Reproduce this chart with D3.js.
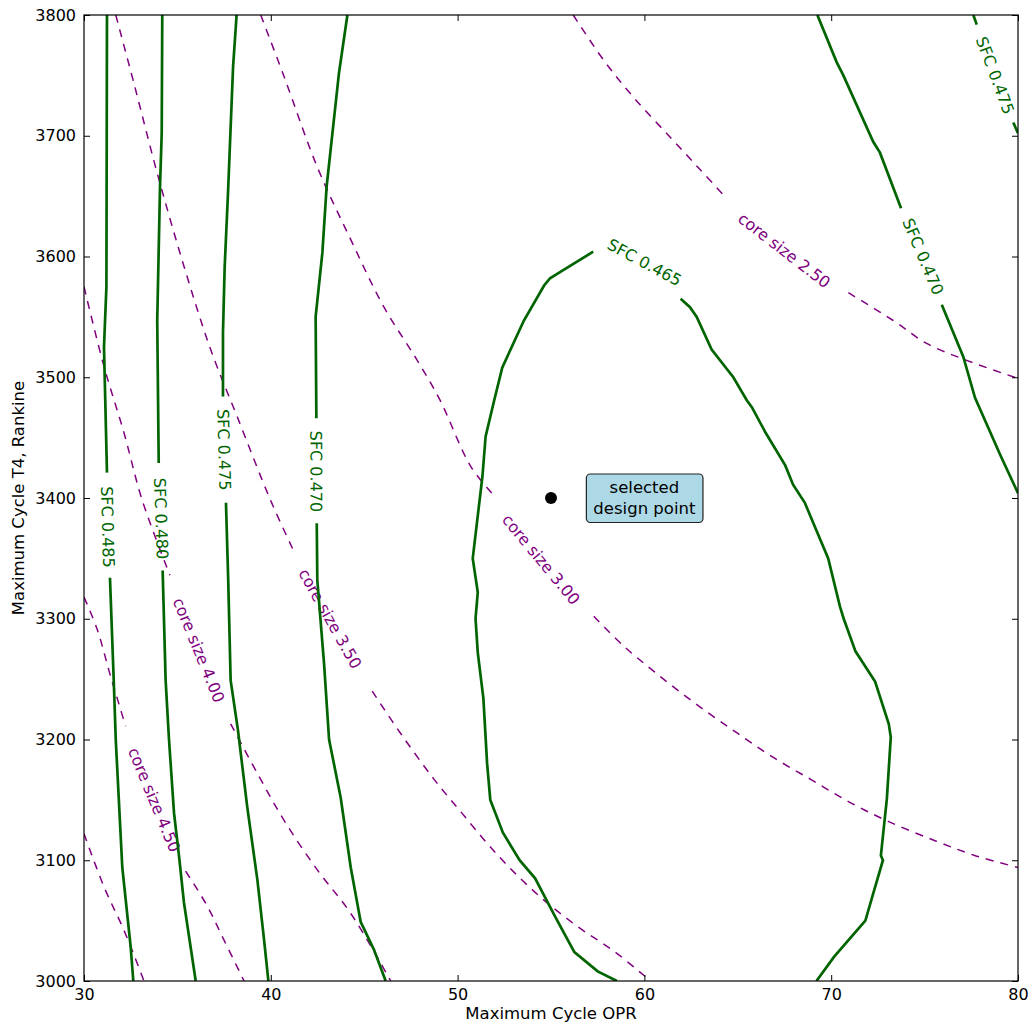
<!DOCTYPE html>
<html>
<head>
<meta charset="utf-8">
<script src="https://cdn.jsdelivr.net/npm/d3@7"></script>
<style>
body { margin: 0; background: #fff; }
text { font-family: "DejaVu Sans", sans-serif; }
</style>
</head>
<body>
<div id="chart"></div>
<script>
// axis ticks
let xTicks = [30, 40, 50, 60, 70, 80];
let yTicks = [3000, 3100, 3200, 3300, 3400, 3500, 3600, 3700, 3800];

// SFC contours, [OPR, T4] points, split where the inline label sits
let sfc485 = [
    [[31.23, 3800], [31.20, 3575], [31.07, 3525], [31.23, 3421]],
    [[31.39, 3334], [31.61, 3241], [31.70, 3200], [32.05, 3094], [32.50, 3028], [32.64, 3000]]
];
let sfc480 = [
    [[34.19, 3800], [34.16, 3702], [34.07, 3658], [33.92, 3547], [34.00, 3429]],
    [[34.21, 3340], [34.37, 3249], [34.55, 3200], [34.82, 3139], [35.09, 3103], [35.35, 3065], [35.98, 3000]]
];
let sfc475a = [
    [[38.17, 3800], [37.98, 3757], [37.71, 3653], [37.53, 3591], [37.44, 3537], [37.44, 3484]],
    [[37.60, 3396], [37.72, 3332], [37.85, 3249], [38.24, 3208], [38.74, 3144], [39.28, 3084], [39.64, 3034], [39.87, 3000]]
];
let sfc470a = [
    [[44.10, 3800], [43.65, 3752], [42.99, 3658], [42.76, 3603], [42.40, 3550], [42.44, 3466]],
    [[42.46, 3379], [42.49, 3332], [42.85, 3263], [43.12, 3200], [43.74, 3152], [44.28, 3094], [44.81, 3049], [45.52, 3026], [46.15, 3000]]
];
let sfc465 = [
    [[58.53, 3000], [57.50, 3008], [56.25, 3024], [55.20, 3054], [54.15, 3085], [53.32, 3100], [52.42, 3123],
     [51.75, 3150], [51.58, 3180], [51.38, 3234], [51.08, 3272], [50.96, 3300], [51.08, 3322], [50.81, 3350],
     [51.33, 3418], [51.50, 3451], [51.96, 3481], [52.39, 3508], [53.55, 3547], [54.63, 3576], [54.95, 3582],
     [55.48, 3587], [57.26, 3604]],
    [[61.94, 3565], [62.44, 3558], [62.80, 3550], [63.60, 3523], [64.76, 3500], [65.48, 3481], [65.76, 3475],
     [66.49, 3454], [67.54, 3427], [67.96, 3411], [68.59, 3396], [69.21, 3373], [69.84, 3350], [70.47, 3310],
     [70.67, 3300], [71.30, 3273], [72.35, 3248], [73.08, 3213], [73.19, 3202], [72.98, 3151], [72.66, 3104],
     [72.77, 3100], [72.24, 3072], [71.83, 3050], [70.15, 3020], [69.21, 3000]]
];
let sfc470b = [
    [[69.26, 3800], [70.29, 3761], [70.65, 3750], [72.25, 3695], [72.61, 3686], [73.74, 3640]],
    [[75.92, 3560], [77.07, 3517], [77.70, 3483], [79.04, 3436], [80.00, 3404]]
];
let sfc475b = [
    [[77.61, 3800], [77.79, 3792]],
    [[79.75, 3711], [80.00, 3702]]
];
let sfcNames = ["SFC 0.485", "SFC 0.480", "SFC 0.475", "SFC 0.470", "SFC 0.465", "SFC 0.470", "SFC 0.475"];
let sfcLabelAt = [[31.26, 3376], [34.12, 3383], [37.49, 3440], [42.42, 3422], [60.0, 3595], [74.91, 3600], [78.77, 3750]];

// core size contours
let core250 = [
    [[56.19, 3800], [57.80, 3763], [59.41, 3732], [61.37, 3699], [62.98, 3672], [64.41, 3648]],
    [[70.92, 3570], [73.32, 3547], [75.11, 3528], [77.25, 3514], [80.00, 3499]]
];
let core300 = [
    [[39.46, 3800], [40.71, 3749], [42.49, 3674], [44.28, 3614], [46.06, 3558], [47.84, 3514], [49.06, 3481], [50.71, 3426], [51.95, 3402]],
    [[57.29, 3302], [58.85, 3278], [60.54, 3256], [62.62, 3231], [64.72, 3208], [66.81, 3186], [68.90, 3167],
     [70.99, 3148], [73.08, 3132], [75.59, 3116], [77.68, 3104], [80.00, 3094]]
];
let core350 = [
    [[31.70, 3800], [32.68, 3743], [33.92, 3669], [35.35, 3592], [36.78, 3523], [38.21, 3467], [39.99, 3398], [41.20, 3357]],
    [[45.43, 3240], [46.95, 3205], [48.74, 3167], [50.07, 3142], [52.16, 3104], [54.25, 3072], [56.34, 3046], [58.43, 3024], [60.33, 3000]]
];
let core400 = [
    [[30.00, 3575], [31.07, 3509], [32.14, 3454], [33.12, 3398], [34.60, 3336]],
    [[37.85, 3213], [39.28, 3172], [40.71, 3133], [42.49, 3092], [44.28, 3056], [46.42, 3000]]
];
let core450 = [
    [[30.00, 3318], [30.71, 3291], [31.43, 3252], [32.23, 3211]],
    [[35.44, 3091], [36.60, 3062], [37.49, 3034], [38.57, 3000]]
];
let core500 = [
    [[30.00, 3122], [31.07, 3078], [32.14, 3042], [33.21, 3000]]
];
let coreNames = ["core size 2.50", "core size 3.00", "core size 3.50", "core size 4.00", "core size 4.50", null];
let coreLabelAt = [[67.48, 3605], [54.46, 3349], [43.17, 3300], [36.14, 3274], [33.75, 3150], null];

let designPoint = [55, 3400];
let designText = ["selected", "design point"];
let designTextAt = [60, 3400];

let sfcLines = [sfc485, sfc480, sfc475a, sfc470a, sfc465, sfc470b, sfc475b].map(function (segs, i) {
    return {segs: segs, name: sfcNames[i], at: sfcLabelAt[i]};
});
let coreLines = [core250, core300, core350, core400, core450, core500].map(function (segs, i) {
    return {segs: segs, name: coreNames[i], at: coreLabelAt[i]};
});

let margin = {top: 15, right: 15, bottom: 46, left: 84},
    width = 1033 - margin.left - margin.right,
    height = 1027 - margin.top - margin.bottom;

let svg = d3.select("#chart")
    .append("svg")
    .attr("width", 1033)
    .attr("height", 1027)
    .append("g")
    .attr("transform", "translate(" + margin.left + "," + margin.top + ")");

let x = d3.scaleLinear().domain([30, 80]).range([0, width]);
let y = d3.scaleLinear().domain([3000, 3800]).range([height, 0]);

svg.append("clipPath").attr("id", "plot-clip")
    .append("rect").attr("width", width).attr("height", height);

let plot = svg.append("g").attr("clip-path", "url(#plot-clip)");

let straight = d3.line().x(d => x(d[0])).y(d => y(d[1]));
let smooth = d3.line().x(d => x(d[0])).y(d => y(d[1])).curve(d3.curveCatmullRom);

// angle of the label from the two ends of the gap, kept upright
function labelAngle(segs) {
    let a = segs[0][segs[0].length - 1], b = segs[1][0];
    let ang = Math.atan2(y(b[1]) - y(a[1]), x(b[0]) - x(a[0])) * 180 / Math.PI;
    if (ang > 90) ang -= 180;
    if (ang < -90) ang += 180;
    return ang;
}

function drawContours(lines, gen, color, lw, dash) {
    lines.forEach(function (c) {
        c.segs.forEach(function (s) {
            plot.append("path")
                .attr("d", gen(s))
                .attr("fill", "none")
                .attr("stroke", color)
                .attr("stroke-width", lw)
                .attr("stroke-dasharray", dash);
        });
        if (c.name) {
            plot.append("text")
                .attr("transform", "translate(" + x(c.at[0]) + "," + y(c.at[1]) + ") rotate(" + labelAngle(c.segs) + ")")
                .attr("text-anchor", "middle")
                .attr("dominant-baseline", "central")
                .attr("font-size", 16)
                .attr("fill", color)
                .text(c.name);
        }
    });
}

drawContours(coreLines, smooth, "#800080", 1.5, "8,7");
drawContours(sfcLines, straight, "#006400", 2.7, null);

// selected design point
plot.append("circle")
    .attr("cx", x(designPoint[0]))
    .attr("cy", y(designPoint[1]))
    .attr("r", 6)
    .attr("fill", "black");

let note = svg.append("g");
let noteText = note.append("text")
    .attr("text-anchor", "middle")
    .attr("font-size", 16.5)
    .attr("fill", "black");
designText.forEach(function (t, i) {
    noteText.append("tspan")
        .attr("x", x(designTextAt[0]))
        .attr("y", y(designTextAt[1]) + (i === 0 ? -5 : 15.5))
        .text(t);
});
let bb = noteText.node().getBBox();
note.insert("rect", "text")
    .attr("x", bb.x - 7)
    .attr("y", bb.y - 4)
    .attr("width", bb.width + 14)
    .attr("height", bb.height + 9)
    .attr("rx", 4)
    .attr("fill", "#add8e6")
    .attr("stroke", "#222")
    .attr("stroke-width", 1.2);

// axes, ticks pointing inwards
function styleAxis(g) {
    g.select(".domain").remove();
    g.attr("font-size", 16).attr("font-family", "DejaVu Sans").attr("color", "#000");
}

svg.append("g")
    .attr("transform", "translate(0," + height + ")")
    .call(d3.axisBottom(x).tickValues(xTicks).tickSizeInner(-6).tickSizeOuter(0).tickPadding(8).tickFormat(d3.format("d")))
    .call(styleAxis);

svg.append("g")
    .call(d3.axisLeft(y).tickValues(yTicks).tickSizeInner(-6).tickSizeOuter(0).tickPadding(8).tickFormat(d3.format("d")))
    .call(styleAxis);

svg.append("g")
    .call(d3.axisTop(x).tickValues(xTicks).tickSizeInner(-6).tickSizeOuter(0).tickFormat(""))
    .call(styleAxis);

svg.append("g")
    .attr("transform", "translate(" + width + ",0)")
    .call(d3.axisRight(y).tickValues(yTicks).tickSizeInner(-6).tickSizeOuter(0).tickFormat(""))
    .call(styleAxis);

svg.append("rect")
    .attr("width", width)
    .attr("height", height)
    .attr("fill", "none")
    .attr("stroke", "#000")
    .attr("stroke-width", 1.2);

svg.append("text")
    .attr("x", width / 2)
    .attr("y", height + 38)
    .attr("text-anchor", "middle")
    .attr("font-size", 16.5)
    .text("Maximum Cycle OPR");

svg.append("text")
    .attr("transform", "translate(" + (24 - margin.left) + "," + (height / 2) + ") rotate(-90)")
    .attr("text-anchor", "middle")
    .attr("font-size", 16.5)
    .text("Maximum Cycle T4, Rankine");
</script>
</body>
</html>
